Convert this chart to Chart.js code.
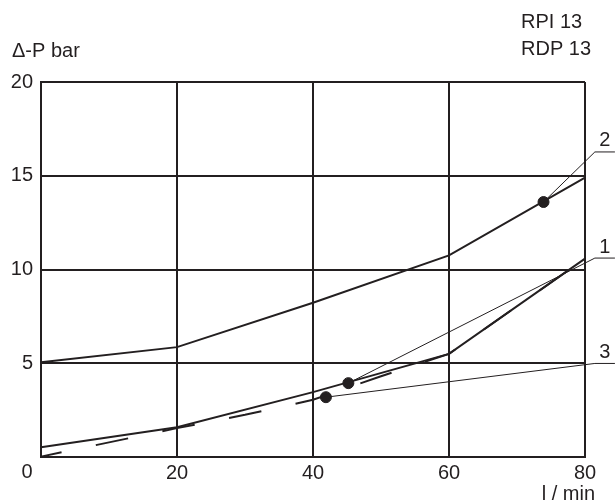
<!doctype html>
<html>
	<head>
		<title>Delta-P chart</title>
		<script src="https://cdn.jsdelivr.net/npm/chart.js@4.4.1/dist/chart.umd.min.js"></script>
		<style>
			body { margin: 0; background: #fff; }
		</style>
	</head>
	<body>
		<div style="width:615px;height:502px">
			<canvas id="dpChart" width="615" height="502"></canvas>
		</div>

	<script>
		// flow l/min
		var flowTicks = [0, 20, 40, 60, 80];
		var pressureTicks = [0, 5, 10, 15, 20];

		// curve 2 (upper)
		var curve2X = [0, 20, 40, 60, 80];
		var curve2Y = [5.05, 5.86, 8.23, 10.75, 14.9];

		// curve 1 (solid, lower)
		var curve1X = [0, 20, 40, 60, 80];
		var curve1Y = [0.52, 1.59, 3.46, 5.5, 10.58];

		// curve 3 (dashed)
		var curve3X = [0, 20, 30, 40, 50, 60, 80];
		var curve3Y = [0.02, 1.54, 2.25, 3.05, 4.31, 5.5, 10.58];

		// marker dots, order 1, 2, 3
		var markerX = [45.2, 73.9, 41.9];
		var markerY = [3.94, 13.6, 3.19];
		var markerLabels = ["1", "2", "3"];

		// where each leader line meets its label underline
		var labelStartX = 81.45;
		var labelEndX = 84.4;
		var labelY = [10.61, 16.27, 4.99];

		var ink = "#231f20";
		var font = "'Liberation Sans', Arial, sans-serif";

		var toPoints = function(xs, ys) {
			var pts = [];
			for (var i = 0; i < xs.length; i++) {
				pts.push({x: xs[i], y: ys[i]});
			}
			return pts;
		};

		var lineSet = function(pts, width, dash) {
			return {
				type: "line",
				data: pts,
				borderColor: ink,
				borderWidth: width,
				borderDash: dash || [],
				borderDashOffset: 12,
				pointRadius: 0,
				fill: false,
				tension: 0,
				clip: false
			};
		};

		var datasets = [
			lineSet(toPoints(curve2X, curve2Y), 2),
			lineSet(toPoints(curve1X, curve1Y), 2),
			lineSet(toPoints(curve3X, curve3Y), 2, [33, 35])
		];

		// thin leader lines, drawn from the label underline back to the dot
		// (unsorted order so chart.js keeps the points past x = 80)
		for (var i = 0; i < markerX.length; i++) {
			datasets.push(lineSet([
				{x: labelEndX, y: labelY[i]},
				{x: labelStartX, y: labelY[i]},
				{x: markerX[i], y: markerY[i]}
			], 1));
		}

		datasets.push({
			type: "scatter",
			data: toPoints(markerX, markerY),
			pointRadius: 5.5,
			pointBackgroundColor: ink,
			pointBorderColor: ink,
			showLine: false,
			clip: false
		});

		var textPlugin = {
			id: "textPlugin",
			afterDraw: function(chart) {
				var c = chart.ctx;
				var xs = chart.scales.x;
				var ys = chart.scales.y;
				c.save();
				c.fillStyle = ink;
				c.font = "20px " + font;
				c.textBaseline = "middle";
				c.textAlign = "left";
				c.fillText("\u0394-P bar", 12, 51);
				c.fillText("RPI 13", 521, 22);
				c.fillText("RDP 13", 521, 49);
				c.textAlign = "right";
				c.fillText("l / min", 595, 494);
				c.textAlign = "center";
				c.fillText("0", 27, 472);
				c.textBaseline = "bottom";
				for (var i = 0; i < markerLabels.length; i++) {
					var lx = (xs.getPixelForValue(labelStartX) + xs.getPixelForValue(labelEndX)) / 2;
					c.fillText(markerLabels[i], lx, ys.getPixelForValue(labelY[i]) - 1);
				}
				c.restore();
			}
		};

		var ctx = document.getElementById("dpChart").getContext("2d");
		var dpChart = new Chart(ctx, {
			type: "scatter",
			data: {datasets: datasets},
			plugins: [textPlugin],
			options: {
				responsive: false,
				animation: false,
				layout: {padding: {left: 0, top: 82, right: 30, bottom: 0}},
				plugins: {legend: {display: false}, tooltip: {enabled: false}},
				scales: {
					x: {
						type: "linear",
						min: 0,
						max: 80,
						afterFit: function(s) { s.height = 45; },
						afterBuildTicks: function(s) {
							s.ticks = flowTicks.map(function(v) { return {value: v}; });
						},
						grid: {color: ink, lineWidth: 2, drawTicks: false},
						border: {color: ink, width: 2},
						ticks: {
							color: ink,
							padding: 4,
							font: {family: font, size: 20},
							callback: function(v) { return v === 0 ? "" : v; }
						}
					},
					y: {
						type: "linear",
						min: 0,
						max: 20,
						afterFit: function(s) { s.width = 41; },
						afterBuildTicks: function(s) {
							s.ticks = pressureTicks.map(function(v) { return {value: v}; });
						},
						grid: {color: ink, lineWidth: 2, drawTicks: false},
						border: {color: ink, width: 2},
						ticks: {
							color: ink,
							padding: 8,
							font: {family: font, size: 20},
							callback: function(v) { return v === 0 ? "" : v; }
						}
					}
				}
			}
		});
	</script>
	</body>
</html>
